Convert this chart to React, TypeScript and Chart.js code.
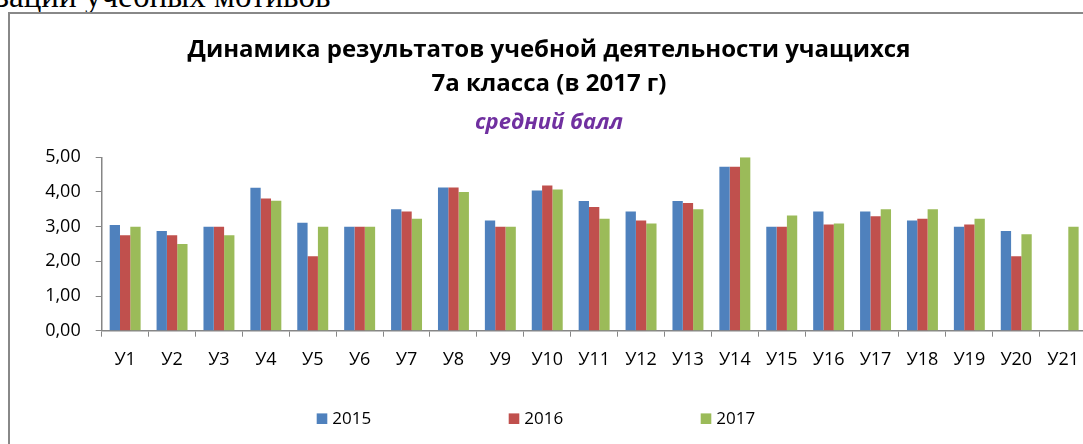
import { useEffect, useRef } from 'react';
import { Chart, registerables } from 'chart.js';

Chart.register(...registerables);

const categories = ['У1', 'У2', 'У3', 'У4', 'У5', 'У6', 'У7', 'У8', 'У9', 'У10', 'У11', 'У12', 'У13', 'У14', 'У15', 'У16', 'У17', 'У18', 'У19', 'У20', 'У21'];
const values2015 = [3.05, 2.875, 3.0, 4.125, 3.115, 3.0, 3.5, 4.13, 3.18, 4.04, 3.74, 3.44, 3.74, 4.73, 3.0, 3.44, 3.44, 3.18, 3.0, 2.875, null];
const values2016 = [2.75, 2.75, 3.0, 3.81, 2.15, 3.0, 3.44, 4.13, 3.0, 4.19, 3.57, 3.18, 3.68, 4.73, 3.0, 3.06, 3.3, 3.23, 3.06, 2.15, null];
const values2017 = [3.0, 2.5, 2.75, 3.75, 3.0, 3.0, 3.23, 4.0, 3.0, 4.07, 3.23, 3.09, 3.5, 5.0, 3.32, 3.09, 3.5, 3.5, 3.23, 2.78, 3.0];
const seriesLabels = ['2015', '2016', '2017'];
const seriesColors = ['#4F81BD', '#C0504D', '#9BBB59'];
const yTickValues = [0, 1, 2, 3, 4, 5];
const titleLines = ['Динамика результатов учебной деятельности учащихся', '7а класса (в 2017 г)'];
const subtitleText = 'средний балл';
const pageTextAbove = 'зации учебных мотивов';

const FONT = '"Open Sans", "Noto Sans", sans-serif';

const sparseLegend = {
  id: 'sparseLegend',
  afterDraw(chart: any) {
    const ctx = chart.ctx;
    const x0 = 309.7;
    const step = 192;
    const y = 418.7;
    ctx.save();
    ctx.font = `17px ${FONT}`;
    ctx.textBaseline = 'middle';
    ctx.textAlign = 'left';
    chart.data.datasets.forEach((d: any, i: number) => {
      const x = x0 + i * step;
      ctx.fillStyle = d.backgroundColor;
      ctx.fillRect(x, y - 5.3, 10.6, 10.6);
      ctx.fillStyle = '#000';
      ctx.fillText(d.label, x + 15.6, y);
    });
    ctx.restore();
  },
};

export default function App() {
  const canvasRef = useRef<HTMLCanvasElement | null>(null);

  useEffect(() => {
    if (!canvasRef.current) return;
    const seriesValues = [values2015, values2016, values2017];
    const chart = new Chart(canvasRef.current, {
      type: 'bar',
      data: {
        labels: categories,
        datasets: seriesValues.map((vals, i) => ({
          label: seriesLabels[i],
          data: vals,
          backgroundColor: seriesColors[i],
          borderWidth: 0,
          barPercentage: 1,
          categoryPercentage: 0.66,
        })),
      },
      plugins: [sparseLegend],
      options: {
        responsive: false,
        animation: false,
        layout: { padding: { top: 0, bottom: 71.3, left: 0, right: 0 } },
        plugins: {
          legend: { display: false },
          tooltip: { enabled: false },
          title: {
            display: true,
            text: titleLines,
            color: '#000',
            font: { family: FONT, size: 24, weight: 'bold', lineHeight: 33.4 / 24 },
            padding: { top: 33.6, bottom: 0 },
          },
          subtitle: {
            display: true,
            text: subtitleText,
            color: '#7030A0',
            font: { family: FONT, size: 22, weight: 'bold', style: 'italic', lineHeight: 1.2 },
            padding: { top: 9.4, bottom: 21.1 },
          },
        },
        scales: {
          x: {
            grid: { drawOnChartArea: false, drawTicks: true, tickLength: 6, color: '#868686', offset: true },
            border: { color: '#868686', width: 1.5 },
            ticks: { color: '#000', font: { family: FONT, size: 18 }, padding: 12, maxRotation: 0, autoSkip: false },
            afterFit: (scale: any) => { scale.height = 42; },
          },
          y: {
            min: 0,
            max: 5,
            afterBuildTicks: (scale: any) => { scale.ticks = yTickValues.map((v) => ({ value: v })); },
            grid: { drawOnChartArea: false, drawTicks: true, tickLength: 6, color: '#868686' },
            border: { color: '#868686', width: 1.5 },
            ticks: {
              color: '#000',
              font: { family: FONT, size: 18 },
              padding: 15,
              callback: (v: any) => Number(v).toFixed(2).replace('.', ','),
            },
            afterFit: (scale: any) => { scale.width = 94.7; },
          },
        },
      },
    });
    return () => chart.destroy();
  }, []);

  return (
    <div style={{ position: 'fixed', inset: 0, overflow: 'hidden', background: '#fff' }}>
      <div
        style={{
          position: 'absolute',
          left: -4,
          top: -20,
          fontFamily: '"Liberation Serif", "Times New Roman", serif',
          fontSize: 33,
          lineHeight: '33px',
          color: '#000',
          whiteSpace: 'nowrap',
        }}
      >
        {pageTextAbove}
      </div>
      <div
        style={{
          position: 'absolute',
          left: 8,
          top: 12,
          width: 2000,
          height: 1000,
          borderLeft: '2px solid #888',
          borderTop: '2px solid #888',
        }}
      />
      <canvas
        ref={canvasRef}
        width={1084}
        height={444}
        style={{ position: 'absolute', left: 7, top: 0, width: 1084, height: 444 }}
      />
    </div>
  );
}
